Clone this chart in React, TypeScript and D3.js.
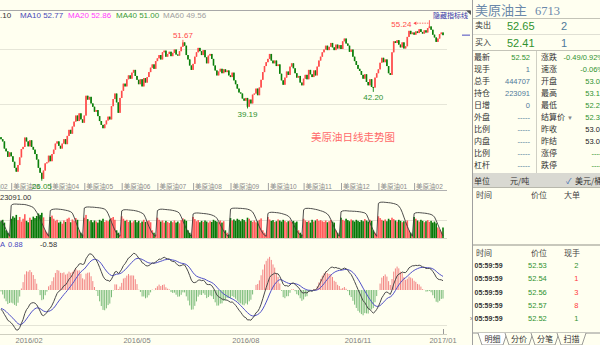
import React from "react";
import * as d3 from "d3";

// ---------- data ----------
const warmupCloses = [
  43.9, 42.9, 42.7, 41.7, 40.7, 40.7, 41.7, 40.7, 40.5, 40.8,
  41.9, 42.0, 42.0, 41.7, 41.6, 39.9, 40.1, 41.1, 39.9, 37.6,
  37.6, 37.2, 36.8, 36.6, 35.6, 34.9, 35.5, 36.3, 34.7, 34.5,
  35.8, 36.1, 37.5, 38.1, 37.9, 36.6, 37.0, 36.8, 35.97, 33.97,
];

const closes = [
  33.6, 33.2, 31.9, 31.4, 30.4, 31.2, 30.5, 29.5, 28.4, 27.7,
  28.9, 30.3, 31.8, 32.2, 33.9, 33.2, 32.3, 33.4, 32.2, 31.7,
  30.9, 29.9, 28.4, 27.5, 26.4, 27.9, 29.2, 29.4, 30.6, 29.6,
  30.9, 31.7, 32.8, 33.2, 32.4, 31.9, 32.8, 33.6, 32.7, 34.2,
  35.3, 34.6, 35.9, 36.8, 37.9, 36.9, 38.3, 37.2, 36.6, 37.9,
  41.5, 40.8, 41.3, 40.1, 39.5, 38.6, 38.9, 37.8, 36.9, 36.2,
  35.6, 36.3, 37.0, 37.7, 37.2, 39.6, 40.9, 41.9, 40.3, 38.4,
  41.1, 42.4, 43.7, 43.2, 44.5, 45.2, 44.6, 45.7, 46.2, 45.1,
  44.4, 43.6, 44.5, 43.2, 44.7, 43.9, 44.9, 45.8, 46.6, 47.2,
  46.4, 47.8, 48.3, 48.9, 48.1, 49.4, 49.7, 48.6, 49.1, 49.5,
  48.7, 49.3, 49.9, 49.0, 48.8, 49.6, 50.4, 51.2, 50.6, 48.9,
  48.1, 47.0, 46.2, 47.3, 48.6, 49.4, 50.2, 49.6, 48.9, 49.8,
  48.5, 47.4, 48.8, 49.1, 48.2, 47.0, 46.1, 45.2, 45.9, 46.4,
  45.6, 46.3, 45.8, 46.1, 45.2, 44.9, 45.7, 44.3, 43.6, 42.8,
  42.1, 41.9, 41.0, 40.6, 41.1, 39.5, 40.8, 40.1, 41.7, 41.9,
  42.8, 41.6, 43.0, 44.4, 45.8, 46.9, 47.6, 48.2, 49.1, 47.9,
  47.4, 47.9, 46.9, 47.2, 45.5, 44.3, 43.5, 44.8, 45.9, 45.3,
  46.8, 47.4, 46.5, 45.6, 44.8, 45.1, 43.9, 43.4, 44.6, 45.3,
  44.5, 46.2, 45.4, 44.9, 46.1, 45.2, 46.8, 47.9, 48.6, 49.4,
  49.9, 50.6, 49.8, 50.4, 51.1, 50.3, 49.8, 50.8, 50.1, 50.7,
  50.0, 51.4, 51.9, 51.0, 50.6, 49.5, 49.9, 48.6, 47.8, 47.1,
  46.4, 46.0, 45.3, 44.6, 45.4, 44.0, 43.4, 44.5, 43.1, 43.0,
  44.8, 45.6, 46.3, 47.5, 48.4, 47.6, 48.1, 46.9, 45.6, 45.3,
  49.4, 51.4, 51.1, 51.6, 50.8, 50.3, 51.2, 50.1, 50.5, 52.2,
  53.3, 52.7, 53.0, 52.6, 53.2, 52.9, 53.6, 53.1, 52.8, 53.4,
  53.0, 53.8, 54.1, 53.5, 52.6, 52.1, 51.3, 51.9, 52.7, 53.0,
  52.52,
];

const volumes = [
  48, 52, 44, 22, 15, 10, 55, 62, 58, 66,
  51, 60, 47, 55, 68, 49, 45, 58, 52, 61,
  57, 63, 70, 66, 72, 59, 22, 15, 10, 60,
  64, 55, 49, 52, 44, 47, 41, 50, 46, 55,
  58, 45, 53, 49, 57, 52, 22, 15, 10, 58,
  66, 54, 48, 51, 45, 50, 47, 44, 52, 49,
  55, 46, 50, 48, 53, 57, 60, 52, 22, 15,
  10, 62, 55, 49, 52, 46, 50, 44, 48, 51,
  45, 49, 43, 47, 52, 46, 48, 50, 45, 22,
  15, 10, 58, 52, 47, 50, 44, 49, 46, 43,
  48, 45, 50, 44, 47, 42, 51, 56, 53, 49,
  22, 15, 10, 60, 54, 48, 51, 45, 49, 46,
  50, 47, 44, 48, 46, 52, 49, 47, 45, 50,
  44, 48, 22, 15, 10, 57, 50, 53, 49, 55,
  52, 48, 54, 51, 47, 58, 55, 49, 46, 50,
  45, 48, 52, 56, 22, 15, 10, 60, 53, 49,
  51, 46, 48, 53, 50, 47, 52, 49, 45, 48,
  50, 46, 49, 44, 47, 22, 15, 10, 55, 50,
  46, 49, 44, 52, 47, 50, 54, 49, 51, 48,
  46, 50, 45, 48, 52, 47, 44, 22, 15, 10,
  58, 52, 49, 55, 51, 48, 53, 50, 47, 52,
  49, 46, 51, 48, 54, 50, 47, 52, 49, 22,
  15, 10, 62, 57, 52, 49, 53, 48, 55, 51,
  58, 54, 50, 47, 52, 49, 45, 48, 46, 50,
  22, 15, 10, 60, 55, 50, 47, 52, 49, 45,
  48, 51, 46, 49, 44, 47, 42, 30, 24, 18,
  30,
];

const openInterest = [
  243, 228, 210, 190, 170, 150,
  330, 337, 338, 338, 337, 337, 336, 336, 335, 333, 330, 327, 323, 318, 305, 290, 272, 250, 228, 205, 185, 165, 150,
  300, 306, 308, 309, 309, 308, 307, 306, 304, 302, 300, 297, 293, 285, 262, 235, 208, 185, 163, 150,
  315, 320, 321, 321, 320, 320, 319, 318, 317, 316, 314, 312, 308, 300, 282, 258, 232, 208, 186, 168, 155, 150,
  298, 304, 305, 305, 304, 303, 302, 301, 299, 297, 294, 290, 285, 278, 258, 232, 208, 186, 168, 155, 150,
  300, 306, 308, 308, 307, 306, 305, 304, 303, 301, 299, 296, 292, 284, 264, 240, 216, 194, 174, 160, 150,
  280, 285, 286, 286, 285, 284, 283, 282, 281, 279, 277, 274, 270, 265, 255, 238, 218, 198, 180, 165, 154, 150,
  308, 313, 314, 314, 314, 313, 313, 312, 311, 310, 308, 305, 300, 292, 275, 252, 228, 205, 185, 168, 156, 150,
  283, 289, 290, 290, 289, 288, 287, 285, 283, 280, 277, 273, 268, 258, 240, 220, 200, 182, 167, 156, 150,
  305, 312, 313, 313, 312, 311, 309, 307, 305, 302, 299, 296, 292, 287, 280, 268, 248, 225, 202, 182, 163, 150,
  293, 298, 299, 299, 298, 297, 297, 296, 296, 295, 294, 293, 291, 289, 286, 278, 256, 230, 206, 184, 164, 150,
  342, 348, 349, 349, 348, 347, 346, 345, 343, 341, 338, 334, 326, 312, 290, 262, 235, 208, 185, 165, 150,
  282, 287, 288, 288, 287, 286, 285, 284, 282, 280, 277, 272, 262, 242, 218, 195, 172, 152,
];

const contractStartIdx = [-13, 6, 29, 49, 71, 92, 113, 135, 157, 178, 200, 222, 243];
const contractLabels = [
  "美原油02", "美原油03", "美原油04", "美原油05", "美原油06", "美原油07", "美原油08",
  "美原油09", "美原油10", "美原油11", "美原油12", "美原油01", "美原油02",
];

const dateLabelIdx = [16.5, 80, 144, 210, 260];
const dateLabels = ["2016/02", "2016/05", "2016/08", "2016/11", "2017/01"];

const extremeIdx = [24, 107, 145, 219, 252];
const extremeVal = [26.05, 51.67, 39.19, 42.2, 55.24];
const extremeKind = ["low", "high", "low", "low", "high"];

const priceGrid = [40, 50];

const maNames = ["MA10", "MA20", "MA40", "MA60"];
const maValues = ["52.77", "52.86", "51.00", "49.56"];

const quoteLeftLabels = ["最新", "现手", "总手", "持仓", "日增", "外盘", "比例", "内盘", "比例", "杠杆"];
const quoteLeftValues = ["52.52", "1", "444707", "223091", "0", "-----", "-----", "-----", "-----", "-----"];
const quoteRightLabels = ["涨跌", "速涨", "开盘", "最高", "最低", "结算价", "昨收", "昨结", "涨停", "跌停"];
const quoteRightValues = ["-0.49/0.92%", "-0.06%", "53.08", "53.17", "52.27", "52.37", "53.01", "53.01", "-----", "-----"];

const tickTimes = ["05:59:59", "05:59:59", "05:59:59", "05:59:59", "05:59:59"];
const tickPrices = ["52.53", "52.54", "52.56", "52.57", "52.52"];
const tickQty = ["2", "1", "3", "8", "1"];
const tickSide = ["sell", "buy", "buy", "buy", "sell"];

const tabLabels = ["明细", "分价", "分笔", "扫描"];

// ---------- styling ----------
const BG = "#fffff0";
const UP = "#ff4c4c";
const DOWN = "#0a7f0a";
const LAT = "'Liberation Sans', Arial, 'Noto Sans CJK SC', sans-serif";
const CJK = "'Noto Sans CJK SC', 'Liberation Sans', sans-serif";
const LABEL_RED = "#ff4a4a";
const LABEL_GREEN = "#2f922f";
const GRAY_BLUE = "#4f7a9a";

function ema(arr: number[], n: number): number[] {
  const k = 2 / (n + 1);
  const out: number[] = [];
  arr.forEach((v, i) => out.push(i === 0 ? v : v * k + out[i - 1] * (1 - k)));
  return out;
}

export default function App() {
  const N = closes.length;
  const x = d3.scaleLinear().domain([0, N - 1]).range([1, 443]);
  const yP = d3.scaleLinear().domain([40, 50]).range([104, 49]);
  const yV = d3.scaleLinear().domain([0, 100]).range([238, 203]);
  const yOI = d3.scaleLinear().domain([140, 350]).range([238, 202]);

  const prev0 = warmupCloses[warmupCloses.length - 1];
  const candles = closes.map((c, i) => {
    const o = i === 0 ? prev0 : closes[i - 1];
    let hi = Math.max(o, c);
    let lo = Math.min(o, c);
    const k = extremeIdx.indexOf(i);
    if (k >= 0) {
      if (extremeKind[k] === "high") hi = Math.max(hi, extremeVal[k]);
      else lo = Math.min(lo, extremeVal[k]);
    }
    return { i, o, c, hi, lo, up: c >= o };
  });

  const all = warmupCloses.concat(closes);
  const e12 = ema(all, 12);
  const e26 = ema(all, 26);
  const difAll = e12.map((v, i) => v - e26[i]);
  const deaAll = ema(difAll, 9);
  const off = warmupCloses.length;
  const dif = difAll.slice(off);
  const dea = deaAll.slice(off);
  const hist = dif.map((v, i) => 2 * (v - dea[i]));
  const m = (d3.max([...dif, ...dea, ...hist].map(Math.abs)) as number) || 1;
  const yM = d3.scaleLinear().domain([-m, m]).range([330, 250]);
  const lineM = d3.line<number>().x((_, i) => x(i)).y((v) => yM(v));
  const lineOI = d3.line<number>().x((_, i) => x(i)).y((v) => yOI(v));

  const maColors = ["#4848b8", "#ff3cff", "#3a9a3a", "#a0a0a0"];
  const maX = [20, 68, 116, 163];

  const rowY = (k: number) => 57 + k * 12;
  const rightValColor = (k: number) => (k === 6 || k === 7 ? "#222" : LABEL_GREEN);
  const leftValColor = (k: number) => (k === 0 ? LABEL_GREEN : GRAY_BLUE);

  const tabL = [478, 505, 531, 557];
  const tabR = [507, 533, 559, 586];

  return (
    <svg
      width={600}
      height={345}
      style={{ position: "absolute", left: 0, top: 0, display: "block" }}
      fontFamily={LAT}
    >
      <defs>
        <clipPath id="plot">
          <rect x={0} y={0} width={447} height={345} />
        </clipPath>
      </defs>
      <rect x={0} y={0} width={600} height={345} fill={BG} />

      {/* top border & legend */}
      <line x1={0} x2={470} y1={10.5} y2={10.5} stroke="#a8a8a8" />
      <path d="M466,10.5 L471,10.5 L471,15 Z" fill="#555" />
      <text x={0} y={17.5} fontSize={8} fill="#333">.10</text>
      {maNames.map((n, k) => (
        <text key={n} x={maX[k]} y={17.5} fontSize={8} fill={maColors[k]}>
          {n} {maValues[k]}
        </text>
      ))}
      <text x={433} y={17.5} fontSize={7} fill="#3434a8" fontFamily={CJK}>隐藏指标线</text>

      {/* price grid */}
      {priceGrid.map((p) => (
        <line key={p} x1={0} x2={447} y1={yP(p) + 0.5} y2={yP(p) + 0.5} stroke="#e6e6d8" />
      ))}

      {/* caption */}
      <text x={353} y={141} fontSize={10.5} fill="#ff6a6a" textAnchor="middle" fontFamily={CJK}>
        美原油日线走势图
      </text>

      {/* candles */}
      <g clipPath="url(#plot)">
        {candles.map((d) => {
          const col = d.up ? UP : DOWN;
          const top = yP(Math.max(d.o, d.c));
          const bot = yP(Math.min(d.o, d.c));
          return (
            <g key={d.i}>
              <line x1={x(d.i)} x2={x(d.i)} y1={yP(d.hi)} y2={yP(d.lo)} stroke={col} strokeWidth={0.9} />
              <rect x={x(d.i) - 0.8} y={top} width={1.6} height={Math.max(1, bot - top)} fill={col} />
            </g>
          );
        })}
      </g>

      {/* current price marker */}
      <line x1={462} x2={470} y1={yP(closes[N - 1])} y2={yP(closes[N - 1])} stroke="#4848c0" />

      {/* contract axis */}
      {contractStartIdx.map((ci, k) => (
        <g key={k}>
          <line x1={x(ci) + 0.5} x2={x(ci) + 0.5} y1={183} y2={190} stroke="#a0a0a0" />
          <text x={x(ci) + 2} y={189} fontSize={6.5} fill="#8a8a8a">{contractLabels[k]}</text>
        </g>
      ))}
      <line x1={0} x2={447} y1={190.5} y2={190.5} stroke="#b0b0b0" />

      {/* extreme labels */}
      {extremeIdx.map((ei, k) => {
        const v = extremeVal[k];
        const cx = x(ei);
        const s = v.toFixed(2);
        if (extremeKind[k] === "low") {
          return (
            <text key={k} x={cx} y={yP(v) + 8.5} fontSize={8} fill={LABEL_GREEN} textAnchor="middle">{s}</text>
          );
        }
        if (k === extremeIdx.length - 1) {
          const yy = yP(v) + 3;
          return (
            <g key={k}>
              <text x={cx - 18} y={yP(v) + 6.5} fontSize={8} fill={LABEL_RED} textAnchor="end">{s}</text>
              <line x1={cx - 15} x2={cx - 1} y1={yy} y2={yy} stroke={LABEL_RED} strokeWidth={0.8} strokeDasharray="1.5,1" />
              <path d={`M${cx - 16},${yy} L${cx - 13},${yy - 1.8} L${cx - 13},${yy + 1.8} Z`} fill={LABEL_RED} />
            </g>
          );
        }
        return (
          <text key={k} x={cx} y={yP(v) - 2} fontSize={8} fill={LABEL_RED} textAnchor="middle">{s}</text>
        );
      })}

      {/* volume panel */}
      <text x={0} y={199.5} fontSize={7.5} fill="#333">23091.00</text>
      <line x1={0} x2={447} y1={220.5} y2={220.5} stroke="#e2e2d4" />
      <g clipPath="url(#plot)">
        {volumes.map((v, i) => (
          <rect
            key={i}
            x={x(i) - 0.8}
            y={yV(v)}
            width={1.6}
            height={yV(0) - yV(v)}
            fill={candles[i].up ? "#ff5c5c" : "#087808"}
          />
        ))}
        <path d={lineOI(openInterest) || ""} fill="none" stroke="#3a3a3a" strokeWidth={0.9} />
      </g>
      <line x1={0} x2={447} y1={238.5} y2={238.5} stroke="#d8d8c8" />

      {/* MACD panel */}
      <text x={0} y={246.5} fontSize={7.5} fill="#4848c0">A</text>
      <text x={8} y={246.5} fontSize={7.5} fill="#4848c0">0.88</text>
      <text x={40} y={246.5} fontSize={7.5} fill="#333">-0.58</text>
      <line x1={0} x2={447} y1={325.5} y2={325.5} stroke="#e4e4d6" />
      <g clipPath="url(#plot)">
        {hist.map((h, i) => (
          <line
            key={i}
            x1={x(i)}
            x2={x(i)}
            y1={yM(0)}
            y2={yM(h)}
            stroke={h >= 0 ? "#f27878" : "#6cb46c"}
            strokeWidth={0.9}
          />
        ))}
        <path d={lineM(dea) || ""} fill="none" stroke="#5050c8" strokeWidth={1} />
        <path d={lineM(dif) || ""} fill="none" stroke="#4a4a4a" strokeWidth={1} />
      </g>
      <line x1={0} x2={447} y1={334.5} y2={334.5} stroke="#cfcfc0" />
      <line x1={443.5} x2={443.5} y1={329} y2={334} stroke="#999" />
      {dateLabels.map((t, k) => (
        <text key={t} x={x(dateLabelIdx[k])} y={343} fontSize={7.5} fill="#808080" textAnchor="middle">{t}</text>
      ))}

      {/* ---------- right panel ---------- */}
      <line x1={472.5} x2={472.5} y1={0} y2={345} stroke="#a0a0a0" />
      <text x={475} y={14.5} fontSize={13} fill="#6a88aa" fontFamily={CJK}>美原油主</text>
      <text x={535} y={14.5} fontSize={12.5} fill="#6a88aa" fontFamily="'Liberation Serif', serif">6713</text>
      <line x1={473} x2={600} y1={18.5} y2={18.5} stroke="#c4c4b8" />

      <text x={475} y={28} fontSize={8} fill="#333" fontFamily={CJK}>卖出</text>
      <text x={507} y={29.5} fontSize={11} fill={LABEL_GREEN}>52.65</text>
      <text x={561} y={29.5} fontSize={11} fill={GRAY_BLUE}>2</text>
      <line x1={473} x2={600} y1={34.5} y2={34.5} stroke="#e0e0d4" />
      <text x={475} y={45} fontSize={8} fill="#333" fontFamily={CJK}>买入</text>
      <text x={507} y={46.5} fontSize={11} fill={LABEL_GREEN}>52.41</text>
      <text x={561} y={46.5} fontSize={11} fill={GRAY_BLUE}>1</text>
      <line x1={473} x2={600} y1={50.5} y2={50.5} stroke="#c4c4b8" />

      <line x1={536.5} x2={536.5} y1={51} y2={173} stroke="#d0d0c4" />
      {quoteLeftLabels.map((l, k) => (
        <g key={"ql" + k}>
          <text x={474} y={rowY(k) + 3} fontSize={8} fill="#333" fontFamily={CJK}>{l}</text>
          <text x={530} y={rowY(k) + 3} fontSize={7.5} fill={leftValColor(k)} textAnchor="end">
            {quoteLeftValues[k]}
          </text>
        </g>
      ))}
      {quoteRightLabels.map((l, k) => (
        <g key={"qr" + k}>
          <text x={541} y={rowY(k) + 3} fontSize={8} fill="#333" fontFamily={CJK}>{l}</text>
          <text x={604} y={rowY(k) + 3} fontSize={7.5} fill={rightValColor(k)} textAnchor="end">
            {quoteRightValues[k]}
          </text>
        </g>
      ))}
      <text x={567} y={rowY(5) + 3} fontSize={6} fill="#888">▼</text>

      <rect x={473} y={173} width={127} height={14} fill="#d9d9d2" />
      <text x={474} y={183.5} fontSize={8} fill="#333" fontFamily={CJK}>单位</text>
      <text x={510} y={183.5} fontSize={8} fill="#333" fontFamily={CJK}>元/吨</text>
      <text x={566} y={183.5} fontSize={8} fill="#3a6ab0">✓</text>
      <text x={575} y={183.5} fontSize={8} fill="#333" fontFamily={CJK}>美元/桶</text>
      <line x1={473} x2={600} y1={187.5} y2={187.5} stroke="#b8b8ac" />

      <text x={476} y={198} fontSize={8} fill="#444" fontFamily={CJK}>时间</text>
      <text x={531} y={198} fontSize={8} fill="#444" fontFamily={CJK}>价位</text>
      <text x={564} y={198} fontSize={8} fill="#444" fontFamily={CJK}>大单</text>

      <rect x={473} y={244} width={127} height={2} fill="#c8c8bc" />
      <text x={476} y={256} fontSize={8} fill="#444" fontFamily={CJK}>时间</text>
      <text x={531} y={256} fontSize={8} fill="#444" fontFamily={CJK}>价位</text>
      <text x={564} y={256} fontSize={8} fill="#444" fontFamily={CJK}>现手</text>
      {tickTimes.map((t, k) => {
        const yy = 268 + k * 13.3;
        return (
          <g key={"tk" + k}>
            <text x={474.5} y={yy} fontSize={7} fill="#333" fontWeight="bold">{t}</text>
            <text x={528} y={yy} fontSize={7.5} fill={LABEL_GREEN}>{tickPrices[k]}</text>
            <text x={578.5} y={yy} fontSize={7.5} fill={tickSide[k] === "buy" ? "#ff3a3a" : LABEL_GREEN} textAnchor="end">
              {tickQty[k]}
            </text>
          </g>
        );
      })}
      <text x={470} y={268 + 4 * 13.3} fontSize={6.5} fill="#555">›</text>

      {/* tabs */}
      <line x1={473} x2={600} y1={333} y2={333} stroke="#909090" />
      {tabLabels.map((t, k) => {
        const L = tabL[k];
        const R = tabR[k];
        return (
          <g key={t}>
            <path
              d={`M${L},333 L${L + 4},345 L${R - 4},345 L${R},333`}
              fill={k === 0 ? "#ffffff" : BG}
              stroke="#808080"
              strokeWidth={0.8}
            />
            <text x={(L + R) / 2} y={342} fontSize={8} fill="#333" textAnchor="middle" fontFamily={CJK}>{t}</text>
          </g>
        );
      })}
    </svg>
  );
}
